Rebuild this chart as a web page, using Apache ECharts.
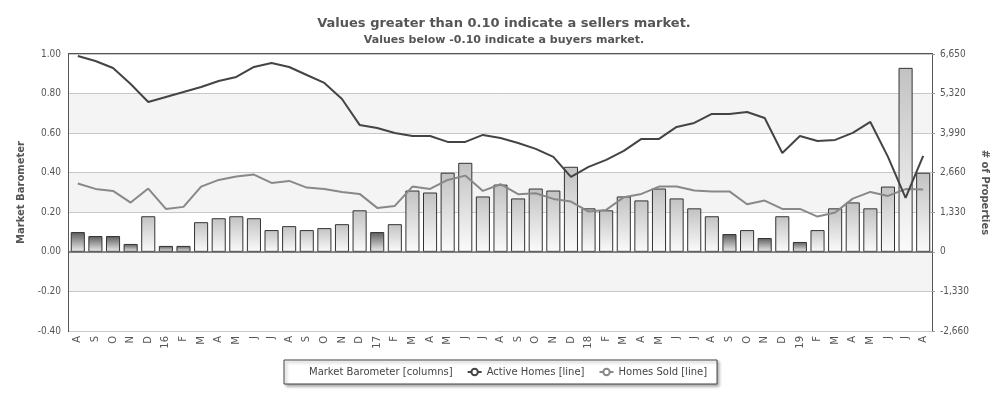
<!DOCTYPE html>
<html>
<head>
<meta charset="utf-8">
<script src="https://cdn.jsdelivr.net/npm/echarts@6/dist/echarts.min.js"></script>
<style>
html,body{margin:0;padding:0;background:#fff;}
#chart{width:1008px;height:400px;}
</style>
</head>
<body>
<div id="chart"></div>
<script>
const categories = ['A','S','O','N','D','16','F','M','A','M','J','J','A','S','O','N','D','17','F','M','A','M','J','J','A','S','O','N','D','18','F','M','A','M','J','J','A','S','O','N','D','19','F','M','A','M','J','J','A'];
const marketBarometer = [0.10,0.08,0.08,0.04,0.18, 0.03,0.03,0.15,0.17,0.18,0.17,0.11,0.13,0.11,0.12,0.14,0.21, 0.10,0.14,0.31,0.30,0.40,0.45,0.28,0.34,0.27,0.32,0.31,0.43, 0.22,0.21,0.28,0.26,0.32,0.27,0.22,0.18,0.09,0.11,0.07,0.18, 0.05,0.11,0.22,0.25,0.22,0.33,0.93,0.40];
const activeHomes = [6584,6416,6180,5643,5038, 5206,5374,5542,5744,5878,6214,6348,6214,5945,5677,5139,4266, 4165,3997,3896,3896,3695,3695,3930,3829,3661,3460,3191,2519, 2855,3090,3392,3796,3796,4199,4333,4635,4635,4703,4501,3325, 3896,3728,3762,3997,4367,3191,1814,3225];
const homesSold = [2295,2116,2049,1656,2127, 1444,1512,2194,2418,2530,2597,2318,2385,2160,2116,2015,1948, 1478,1545,2194,2116,2418,2563,2049,2274,1938,1972,1780,1690, 1354,1411,1837,1948,2194,2194,2060,2032,2032,1602,1723,1444, 1444,1186,1320,1790,2015,1880,2110,2100];
const leftTicks = {min:-0.4, max:1.0, interval:0.2};
const rightTicks = {min:-2660, max:6650, interval:1330};

const FONT = 'DejaVu Sans';
const NUMFONT = 'DejaVu Sans Condensed';
const chart = echarts.init(document.getElementById('chart'), null, {renderer:'canvas'});

const lightGrad = new echarts.graphic.LinearGradient(0,0,0,1,[{offset:0,color:'#c2c2c2'},{offset:1,color:'#fbfbfb'}]);
const darkGrad = new echarts.graphic.LinearGradient(0,0,0,1,[{offset:0,color:'#5a5a5a'},{offset:1,color:'#efefef'}]);

const option = {
  animation:false,
  textStyle:{fontFamily:FONT},
  title:{
    text:'Values greater than 0.10 indicate a sellers market.',
    subtext:'Values below -0.10 indicate a buyers market.',
    left:'center', top:12, itemGap:5,
    textStyle:{fontFamily:FONT,fontSize:13,fontWeight:'bold',color:'#555'},
    subtextStyle:{fontFamily:FONT,fontSize:11,fontWeight:'bold',color:'#555'}
  },
  legend:{
    top:360, left:284,
    orient:'horizontal',
    padding:[7,10,7,5],
    itemGap:14, itemWidth:14, itemHeight:8,
    borderColor:'#444', borderWidth:1, backgroundColor:'#fff',
    shadowColor:'rgba(0,0,0,0.35)', shadowBlur:3, shadowOffsetX:2, shadowOffsetY:2,
    textStyle:{fontFamily:FONT,fontSize:10,color:'#444'},
    data:[
      {name:'Market Barometer [columns]', itemStyle:{opacity:0}},
      {name:'Active Homes [line]'},
      {name:'Homes Sold [line]'}
    ]
  },
  grid:{left:69,right:76,top:54,bottom:69,show:true,borderColor:'#555',borderWidth:2,backgroundColor:'transparent'},
  xAxis:{
    type:'category', data:categories, boundaryGap:true,
    axisLine:{show:false}, axisTick:{show:false},
    axisLabel:{rotate:90,fontFamily:FONT,fontSize:10,color:'#555',margin:5,interval:0},
    splitLine:{show:false}
  },
  yAxis:[
    {
      type:'value', min:leftTicks.min, max:leftTicks.max, interval:leftTicks.interval,
      name:'Market Barometer', nameLocation:'middle', nameGap:40,
      nameTextStyle:{fontFamily:FONT,fontSize:10,fontWeight:'bold',color:'#555'},
      axisLine:{show:false}, axisTick:{show:false},
      axisLabel:{fontFamily:NUMFONT,fontSize:10,color:'#555',margin:8,formatter:v=>v.toFixed(2)},
      splitLine:{show:true,lineStyle:{color:'#c8c8c8',width:1}},
      splitArea:{show:true,areaStyle:{color:['#ffffff','#f4f4f4']}}
    },
    {
      type:'value', min:rightTicks.min, max:rightTicks.max, interval:rightTicks.interval,
      name:'# of Properties', nameLocation:'middle', nameGap:47, nameRotate:-90,
      nameTextStyle:{fontFamily:FONT,fontSize:10,fontWeight:'bold',color:'#555'},
      axisLine:{show:false}, axisTick:{show:true,length:3,lineStyle:{color:'#999'}},
      axisLabel:{fontFamily:NUMFONT,fontSize:10,color:'#555',margin:8,formatter:v=>v.toLocaleString('en-US')},
      splitLine:{show:false}
    }
  ],
  series:[
    {
      name:'Market Barometer [columns]', type:'bar', yAxisIndex:0,
      barCategoryGap:'20%',
      data:marketBarometer.map(v=>({value:v,itemStyle:{color: v<=0.10 ? darkGrad : lightGrad}})),
      itemStyle:{borderColor:'#333',borderWidth:1},
      markLine:{silent:true,symbol:'none',label:{show:false},lineStyle:{color:'#666',width:1.5,type:'solid'},data:[{yAxis:0}]},
      z:2
    },
    {
      name:'Active Homes [line]', type:'line', yAxisIndex:1, data:activeHomes,
      symbol:'emptyCircle', symbolSize:7, showSymbol:false,
      lineStyle:{color:'#444',width:2}, itemStyle:{color:'#444',borderWidth:2},
      z:4
    },
    {
      name:'Homes Sold [line]', type:'line', yAxisIndex:1, data:homesSold,
      symbol:'emptyCircle', symbolSize:7, showSymbol:false,
      lineStyle:{color:'#888',width:2}, itemStyle:{color:'#888',borderWidth:1},
      z:3
    }
  ]
};
chart.setOption(option);
</script>
</body>
</html>
